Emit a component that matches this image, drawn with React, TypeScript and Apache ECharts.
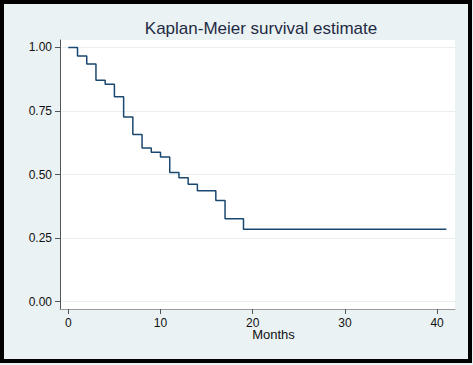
import React, { useEffect, useRef } from "react";
import * as echarts from "echarts";

const months = [0, 1, 2, 3, 4, 5, 6, 7, 8, 9, 10, 11, 12, 13, 14, 16, 17, 19, 41];
const survival = [1.0, 0.967, 0.935, 0.871, 0.855, 0.806, 0.726, 0.657, 0.604, 0.588, 0.569, 0.508, 0.487, 0.462, 0.436, 0.398, 0.326, 0.284, 0.284];
const xTicks = [0, 10, 20, 30, 40];
const yTicks = [0, 0.25, 0.5, 0.75, 1.0];
const titleText = "Kaplan-Meier survival estimate";
const xName = "Months";

const FONT = "'Liberation Sans', Arial, sans-serif";

export default function App() {
  const ref = useRef<HTMLDivElement>(null);
  useEffect(() => {
    document.body.style.margin = "0";
    const chart = echarts.init(ref.current!, null, { renderer: "svg" });
    chart.setOption({
      animation: false,
      backgroundColor: "#eaf2f3",
      grid: {
        left: 60,
        top: 40,
        width: 395,
        height: 269,
        show: true,
        backgroundColor: "#ffffff",
        borderWidth: 0,
      },
      xAxis: {
        type: "value",
        min: -0.9,
        max: 41.94,
        axisLine: { show: true, onZero: false, lineStyle: { color: "#9a9a9a", width: 1 } },
        axisTick: { show: true, length: 5, customValues: xTicks, lineStyle: { color: "#555" } },
        axisLabel: {
          customValues: xTicks,
          margin: 8,
          fontSize: 12,
          color: "#111",
          fontFamily: FONT,
        },
        splitLine: { show: false },
      },
      yAxis: {
        type: "value",
        min: -0.0295,
        max: 1.0295,
        axisLine: { show: true, onZero: false, lineStyle: { color: "#555", width: 1 } },
        axisTick: { show: true, length: 5, customValues: yTicks, lineStyle: { color: "#555" } },
        axisLabel: {
          customValues: yTicks,
          margin: 8,
          fontSize: 12,
          color: "#111",
          fontFamily: FONT,
          formatter: (v: number) => v.toFixed(2),
        },
        splitLine: { show: true, lineStyle: { color: "#e9eff1", width: 1 } },
      },
      series: [
        {
          type: "line",
          step: "end",
          showSymbol: false,
          data: months.map((m, i) => [m, survival[i]]),
          lineStyle: { color: "#1a476f", width: 1.5 },
        },
      ],
      graphic: [
        {
          type: "rect",
          shape: { x: 2, y: 2, width: 468, height: 359 },
          style: { fill: "none", stroke: "#000", lineWidth: 4 },
          z: 100,
        },
        {
          type: "text",
          x: 261,
          y: 28,
          style: {
            text: titleText,
            fontSize: 17,
            fontFamily: FONT,
            fill: "#1f2a44",
            textAlign: "center",
            textVerticalAlign: "middle",
          },
        },
        {
          type: "text",
          x: 273.5,
          y: 334,
          style: {
            text: xName,
            fontSize: 13,
            fontFamily: FONT,
            fill: "#111",
            textAlign: "center",
            textVerticalAlign: "middle",
          },
        },
      ],
    });
    return () => chart.dispose();
  }, []);
  return <div ref={ref} style={{ width: 473, height: 365 }} />;
}
